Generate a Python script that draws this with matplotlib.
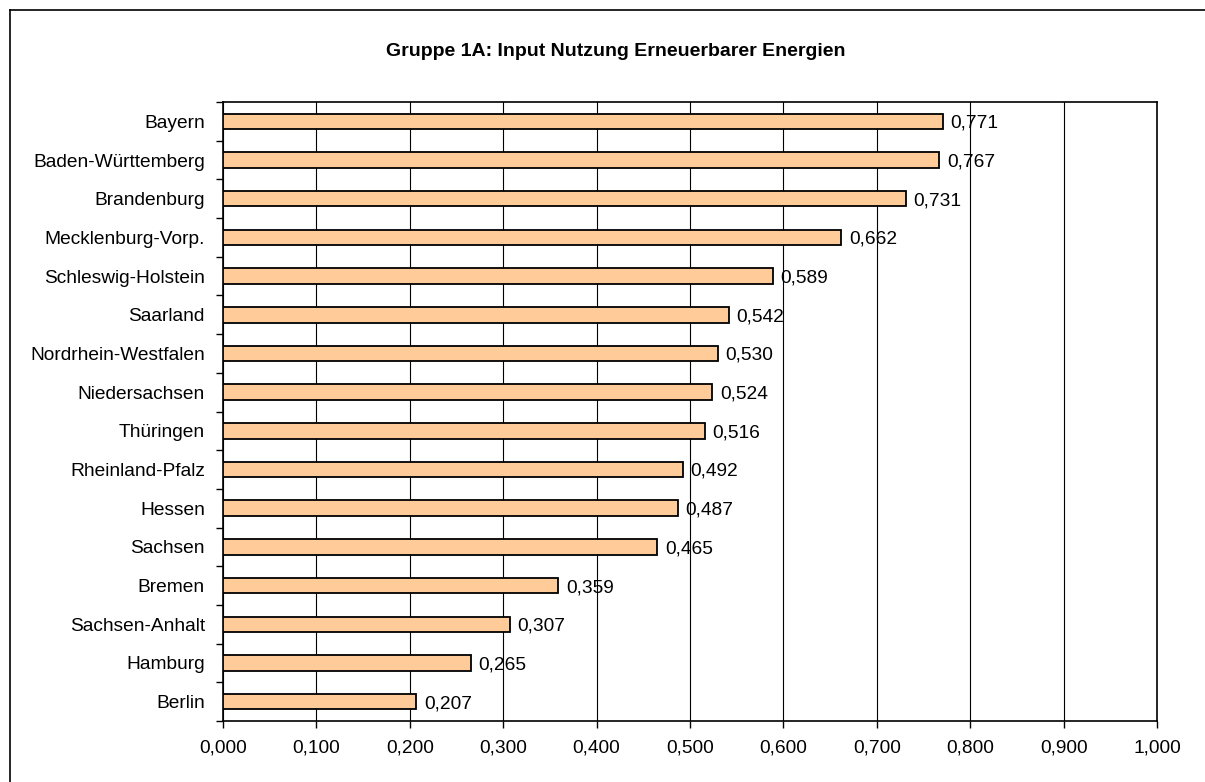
import matplotlib.pyplot as plt
from matplotlib.lines import Line2D
import numpy as np

plt.rcParams['font.family'] = ['Liberation Sans', 'DejaVu Sans']

# Daten (von oben nach unten)
laender = ['Bayern', 'Baden-Württemberg', 'Brandenburg', 'Mecklenburg-Vorp.',
           'Schleswig-Holstein', 'Saarland', 'Nordrhein-Westfalen', 'Niedersachsen',
           'Thüringen', 'Rheinland-Pfalz', 'Hessen', 'Sachsen', 'Bremen',
           'Sachsen-Anhalt', 'Hamburg', 'Berlin']
werte = [0.771, 0.767, 0.731, 0.662, 0.589, 0.542, 0.530, 0.524,
         0.516, 0.492, 0.487, 0.465, 0.359, 0.307, 0.265, 0.207]
x_ticks = [0.0, 0.1, 0.2, 0.3, 0.4, 0.5, 0.6, 0.7, 0.8, 0.9, 1.0]

fs = 13.8

fig = plt.figure(figsize=(12.05, 7.82), dpi=100)
ax = fig.add_axes([223 / 1205, 1 - 721 / 782, (1157 - 223) / 1205, (721 - 102) / 782])

n = len(laender)
y = np.arange(n)[::-1]
ax.barh(y, werte, height=0.4, color='#FFCC99', edgecolor='black', linewidth=1.3, zorder=3)

for yi, v in zip(y, werte):
    ax.text(v + 0.008, yi - 0.05, f'{v:.3f}'.replace('.', ','), va='center', ha='left',
            fontsize=fs, zorder=4)

ax.set_xlim(0, 1.0)
ax.set_ylim(-0.5, n - 0.5)
ax.set_xticks(x_ticks)
ax.set_xticklabels([f'{t:.3f}'.replace('.', ',') for t in x_ticks], fontsize=fs)
ax.set_yticks(y)
ax.set_yticklabels(laender, fontsize=fs)
ax.set_yticks(np.arange(-0.5, n), minor=True)
ax.tick_params(axis='y', which='major', length=0, pad=13)
ax.tick_params(axis='y', which='minor', length=5, direction='out', width=1)
ax.tick_params(axis='x', length=5, direction='out', width=1, pad=8)
ax.xaxis.grid(True, color='black', linewidth=0.8, zorder=0)
for s in ax.spines.values():
    s.set_linewidth(1.2)

fig.text(616 / 1205, 1 - 52 / 782, 'Gruppe 1A: Input Nutzung Erneuerbarer Energien',
         ha='center', va='center', fontsize=14, fontweight='bold')

# Rahmen um das Diagramm
fig.add_artist(Line2D([10 / 1205, 10 / 1205], [0, 1 - 10 / 782], color='black', linewidth=1.2))
fig.add_artist(Line2D([10 / 1205, 1], [1 - 10 / 782, 1 - 10 / 782], color='black', linewidth=1.2))

fig.savefig('out.png', dpi=100)
